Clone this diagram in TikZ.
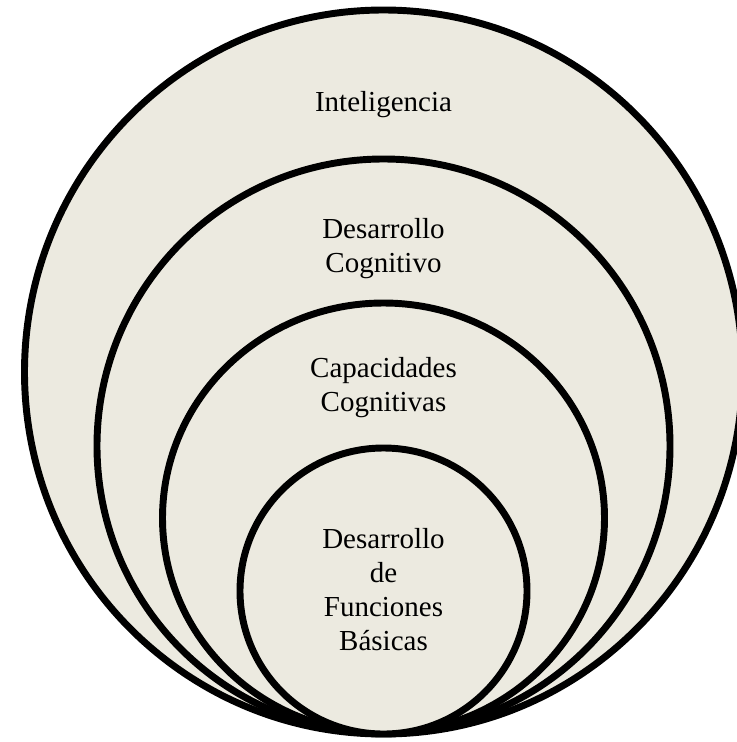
\documentclass[tikz,border=0pt]{standalone}
\usepackage{fontspec}
\setmainfont{Liberation Serif}
\usepackage{xcolor}
\definecolor{paper}{RGB}{236,234,224}

\begin{document}
\begin{tikzpicture}[x=0.75pt,y=-0.75pt,
		ring/.style={draw=black,line width=5.2pt,fill=paper},
		label/.style={align=center,anchor=base,inner sep=0pt,
			font=\fontsize{21.75}{25.5}\selectfont}]
		\def\cx{383.5}
		\useasboundingbox (0,0) rectangle (736,742);
		% rings, outer to inner, all touching at the bottom
		\draw[ring] (\cx,372) ellipse [x radius=359,y radius=362];
		\draw[ring] (\cx,446) ellipse [x radius=286.5,y radius=287];
		\draw[ring] (\cx,518) ellipse [x radius=221,y radius=215];
		\draw[ring] (\cx,591) ellipse [x radius=143.5,y radius=143];
		% texts (base = last line)
		\node[label] (intel) at (\cx,112) {Inteligencia};
		\node[label] (descog) at (\cx,272) {Desarrollo\\Cognitivo};
		\node[label] (capcog) at (\cx,411) {Capacidades\\Cognitivas};
		\node[label] (funbas) at (\cx,650) {Desarrollo\\de\\Funciones\\Básicas};
\end{tikzpicture}
\end{document}
